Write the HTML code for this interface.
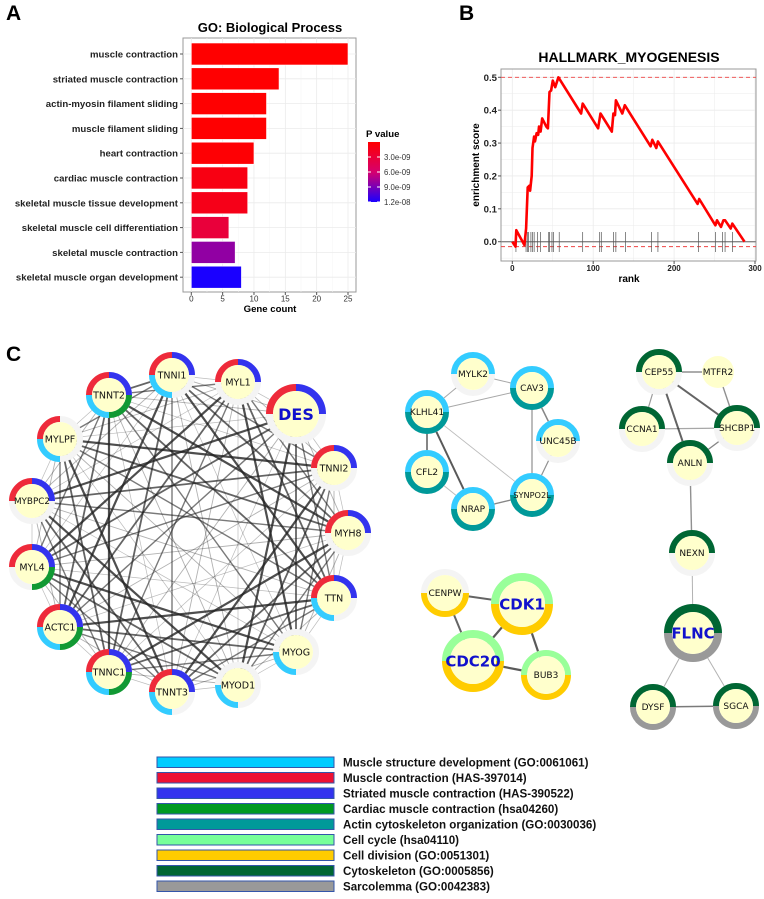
<!DOCTYPE html>
<html><head><meta charset="utf-8"><style>
html,body{margin:0;padding:0;background:#fff;}
svg{display:block;font-family:"Liberation Sans",sans-serif;}
</style></head><body>
<svg id="fig" width="764" height="899" viewBox="0 0 764 899" xmlns="http://www.w3.org/2000/svg">
<defs>
<linearGradient id="pg" x1="0" y1="0" x2="0" y2="1"><stop offset="0" stop-color="#ff0000"/><stop offset="0.5" stop-color="#d6006e"/><stop offset="1" stop-color="#1a00ff"/></linearGradient>
</defs>
<text x="6" y="20" font-size="21" font-weight="bold">A</text>
<text x="459" y="20" font-size="21" font-weight="bold">B</text>
<text x="6" y="361" font-size="21" font-weight="bold">C</text>
<g id="pa"></g>
<g id="pb"></g>
<g id="pc"></g>
<g id="leg"></g>
</svg>
<script>
const NS="http://www.w3.org/2000/svg";
// ---- Panel A data
const goTerms=["muscle contraction","striated muscle contraction","actin-myosin filament sliding","muscle filament sliding","heart contraction","cardiac muscle contraction","skeletal muscle tissue development","skeletal muscle cell differentiation","skeletal muscle contraction","skeletal muscle organ development"];
const goCounts=[25,14,12,12,10,9,9,6,7,8];
const goPvals=[1e-11,3e-11,5e-11,5e-11,2e-10,1.0e-9,1.3e-9,3.2e-9,8.2e-9,1.2e-8];
const goXTicks=[0,5,10,15,20,25];
const pTicks=[3e-9,6e-9,9e-9,1.2e-8];
const pTickLabels=["3.0e-09","6.0e-09","9.0e-09","1.2e-08"];
// ---- Panel B data
const esRank=[0,4,5,15,17,19,21,22,24,25,27,28,30,32,33,35,37,42,44,46,48,50,53,57,85,87,106,109,123,125,127,128,136,139,171,173,178,180,229,231,251,253,258,261,263,270,272,287];
const esScore=[0,-0.015,0.035,-0.01,0.04,0.165,0.17,0.155,0.2,0.285,0.32,0.305,0.33,0.325,0.35,0.335,0.375,0.35,0.345,0.455,0.46,0.49,0.47,0.5,0.39,0.42,0.345,0.39,0.335,0.39,0.385,0.43,0.39,0.415,0.29,0.31,0.285,0.305,0.115,0.13,0.05,0.065,0.045,0.065,0.065,0.04,0.055,0];
const hitRanks=[4.5,17,19,20,23,25,27,31,35,45,46,49,51,58,87,108,110,125,128,140,172,180,230,251,260,263,272];
const esYTicks=[0,0.1,0.2,0.3,0.4,0.5];
const esYLabels=["0.0","0.1","0.2","0.3","0.4","0.5"];
const esXTicks=[0,100,200,300];
const esMaxLine=0.5, esMinLine=-0.015;
// ---- Legend data
const legColors=["#00ccff","#ee1133","#3333ee","#009922","#009999","#77ff99","#ffcc00","#006633","#999999"];
const legLabels=["Muscle structure development (GO:0061061)","Muscle contraction (HAS-397014)","Striated muscle contraction (HAS-390522)","Cardiac muscle contraction (hsa04260)","Actin cytoskeleton organization (GO:0030036)","Cell cycle (hsa04110)","Cell division (GO:0051301)","Cytoskeleton (GO:0005856)","Sarcolemma (GO:0042383)"];

function el(tag,attrs,parent,txt){const e=document.createElementNS(NS,tag);for(const k in attrs)e.setAttribute(k,attrs[k]);if(txt!==undefined)e.textContent=txt;parent.appendChild(e);return e;}

// ===== Panel A
(function(){
const g=document.getElementById('pa');
const x0=183,x1=356,y0=38,y1=292;
const sx=v=>191.3+v*(348-191.3)/25;
const rowY=i=>54+i*24.8;
el('rect',{x:x0,y:y0,width:x1-x0,height:y1-y0,fill:'#fff',stroke:'#999','stroke-width':1},g);
for(let v=0;v<=25;v+=2.5){el('line',{x1:sx(v),x2:sx(v),y1:y0,y2:y1,stroke:v%5===0?'#ebebeb':'#f5f5f5','stroke-width':v%5===0?0.8:0.5},g);}
goTerms.forEach((t,i)=>{el('line',{x1:x0,x2:x1,y1:rowY(i),y2:rowY(i),stroke:'#ebebeb','stroke-width':0.8},g);});
function pcol(p){const t=Math.max(0,Math.min(1,p/1.2e-8));
 let r,b; if(t<0.5){r=255-(255-214)*t*2;b=110*t*2;}else{r=214-(214-26)*(t-0.5)*2;b=110+(255-110)*(t-0.5)*2;}
 return `rgb(${Math.round(r)},0,${Math.round(b)})`;}
goTerms.forEach((t,i)=>{
 const r=el('rect',{x:sx(0),y:rowY(i)-11,width:sx(goCounts[i])-sx(0),height:22,fill:pcol(goPvals[i]),stroke:'#fff','stroke-width':0.6},g);
 
 
 const l=el('text',{x:178,y:rowY(i)+3.5,'font-size':9.6,'font-weight':'bold','text-anchor':'end',fill:'#222'},g,t);
 
 
 el('line',{x1:x0-3,x2:x0,y1:rowY(i),y2:rowY(i),stroke:'#555'},g);
});
goXTicks.forEach(v=>{el('line',{x1:sx(v),x2:sx(v),y1:y1,y2:y1+3,stroke:'#555'},g);
 const t=el('text',{x:sx(v),y:y1+9.5,'font-size':8,'text-anchor':'middle',fill:'#333'},g,String(v));
 
 });
let t=el('text',{x:270,y:312,'font-size':9.6,'font-weight':'bold','text-anchor':'middle'},g,'Gene count');


t=el('text',{x:270,y:32,'font-size':13,'font-weight':'bold','text-anchor':'middle'},g,'GO: Biological Process');


const cy0=142,cy1=202,py=p=>cy0+(cy1-cy0)*p/1.2e-8;
t=el('text',{x:366,y:137,'font-size':9.6,'font-weight':'bold'},g,'P value');


const cb=el('rect',{x:368,y:cy0,width:12,height:cy1-cy0,fill:'url(#pg)'},g);


pTicks.forEach((p,i)=>{el('line',{x1:368,x2:371,y1:py(p),y2:py(p),stroke:'#fff'},g);el('line',{x1:377,x2:380,y1:py(p),y2:py(p),stroke:'#fff'},g);
 const tt=el('text',{x:384,y:py(p)+3,'font-size':7.8,fill:'#333'},g,pTickLabels[i]);
 
 });
})();

// ===== Panel B
(function(){
const g=document.getElementById('pb');
const x0=501,x1=756,y0=69,y1=261;
const sx=v=>512.3+v*(755-512.3)/300;
const sy=v=>241.7-v*(241.7-77.3)/0.5;
el('rect',{x:x0,y:y0,width:x1-x0,height:y1-y0,fill:'#fff'},g);
for(let k=-1;k<=11;k++){const v=k*0.05;const y=sy(v);if(y<y0||y>y1)continue;el('line',{x1:x0,x2:x1,y1:y,y2:y,stroke:'#ebebeb','stroke-width':k%2===0?0.8:0.5},g);}
for(let v=0;v<=300;v+=50){el('line',{x1:sx(v),x2:sx(v),y1:y0,y2:y1,stroke:'#ebebeb','stroke-width':v%100===0?0.8:0.5},g);}
el('rect',{x:x0,y:y0,width:x1-x0,height:y1-y0,fill:'none',stroke:'#999','stroke-width':1},g);
el('line',{x1:x0,x2:x1,y1:sy(0),y2:sy(0),stroke:'#888','stroke-width':1.4},g);
[esMaxLine,esMinLine].forEach(v=>{const d=el('line',{x1:x0,x2:x1,y1:sy(v),y2:sy(v),stroke:'#ee4444','stroke-width':0.9,'stroke-dasharray':'4,3'},g);
 
 });
hitRanks.forEach(r=>{const h=el('line',{x1:sx(r),x2:sx(r),y1:232,y2:252,stroke:'#555','stroke-width':0.7},g);
 
 });
const pts=esRank.map((r,i)=>sx(r).toFixed(1)+','+sy(esScore[i]).toFixed(1)).join(' ');
const pl=el('polyline',{points:pts,fill:'none',stroke:'#ff0000','stroke-width':2.6,'stroke-linejoin':'round'},g);


esYTicks.forEach((v,i)=>{el('line',{x1:x0-3,x2:x0,y1:sy(v),y2:sy(v),stroke:'#555'},g);
 const t=el('text',{x:497,y:sy(v)+3.5,'font-size':9.6,'font-weight':'bold','text-anchor':'end',fill:'#222'},g,esYLabels[i]);
 
 });
esXTicks.forEach(v=>{el('line',{x1:sx(v),x2:sx(v),y1:y1,y2:y1+3,stroke:'#555'},g);
 const t=el('text',{x:sx(v),y:y1+10,'font-size':8,'font-weight':'bold','text-anchor':'middle',fill:'#222'},g,String(v));
 
 });
let t=el('text',{x:629,y:282,'font-size':10,'font-weight':'bold','text-anchor':'middle'},g,'rank');


t=el('text',{x:0,y:0,'font-size':10,'font-weight':'bold','text-anchor':'middle',transform:'translate(479,165) rotate(-90)'},g,'enrichment score');


t=el('text',{x:629,y:62,'font-size':14,'font-weight':'bold','text-anchor':'middle'},g,'HALLMARK_MYOGENESIS');


})();

// ===== Panel C networks
const C={lb:"#33ccff",red:"#ee2a3a",blue:"#3333ee",green:"#119933",teal:"#009999",lg:"#99ff99",yel:"#ffcc00",dg:"#006633",gray:"#999999",none:"#f6f6f6"};
const circNodes=[["TNNI1",172,375,23,["blue","none","lb","red"]],["MYL1",238,382,23,["blue","none","none","red"]],["DES",296,414,30,["blue","none","none","red"]],["TNNI2",334,468,23,["blue","none","none","red"]],["MYH8",348,533,23,["blue","none","none","red"]],["TTN",334,598,23,["blue","none","lb","red"]],["MYOG",296,652,23,["none","none","lb","none"]],["MYOD1",238,685,23,["none","none","lb","none"]],["TNNT3",172,692,23,["blue","none","lb","red"]],["TNNC1",109,672,23,["blue","green","lb","red"]],["ACTC1",60,627,23,["blue","green","lb","red"]],["MYL4",32,567,23,["blue","green","none","red"]],["MYBPC2",32,501,23,["blue","none","none","red"]],["MYLPF",60,439,23,["none","none","lb","red"]],["TNNT2",109,395,23,["blue","green","lb","red"]]];
const otherNodes=[["MYLK2",473,374,22,"lb","none"],["CAV3",532,388,22,"lb","teal"],["KLHL41",427,412,22,"lb","teal"],["UNC45B",558,441,22,"lb","none"],["CFL2",427,472,22,"lb","teal"],["NRAP",473,509,22,"lb","teal"],["SYNPO2L",532,495,22,"lb","teal"],
["CENPW",445,593,24,"none","yel"],["CDK1",522,604,31,"lg","yel",1],["CDC20",473,661,31,"lg","yel",1],["BUB3",546,675,25,"lg","yel"],
["CEP55",659,372,23,"dg","none"],["MTFR2",718,372,16,null,null],["CCNA1",642,429,23,"dg","none"],["SHCBP1",737,428,23,"dg","none"],["ANLN",690,463,23,"dg","none"],["NEXN",692,553,23,"dg","none"],["FLNC",693,633,29,"dg","gray",1],["DYSF",653,707,23,"dg","gray"],["SGCA",736,706,23,"dg","gray"]];
const otherEdges=[["MYLK2","KLHL41",1,.4],["MYLK2","CAV3",1,.4],["KLHL41","CAV3",1,.4],["CAV3","UNC45B",1.5,.55],["CAV3","SYNPO2L",1.2,.5],["UNC45B","SYNPO2L",1.2,.5],["KLHL41","CFL2",2,.55],["KLHL41","NRAP",2,.75],["KLHL41","SYNPO2L",.8,.3],["CFL2","NRAP",1,.3],["NRAP","SYNPO2L",1.4,.55],
["CENPW","CDK1",2,.7],["CENPW","CDC20",2,.7],["CDK1","CDC20",2.2,.75],["CDK1","BUB3",2.2,.75],["CDC20","BUB3",2.2,.75],
["CEP55","MTFR2",1.4,.5],["CEP55","CCNA1",1.2,.45],["CEP55","SHCBP1",2,.7],["CEP55","ANLN",2,.7],["MTFR2","SHCBP1",1.4,.5],["CCNA1","SHCBP1",1.2,.4],["SHCBP1","ANLN",1.4,.55],["ANLN","NEXN",1.4,.5],["NEXN","FLNC",1,.35],["FLNC","DYSF",1,.35],["FLNC","SGCA",1,.35],["DYSF","SGCA",1.6,.6]];

(function(){
const g=document.getElementById('pc');
const eg=el('g',{},g);
const n=circNodes.length;
for(let i=0;i<n;i++)for(let j=i+1;j<n;j++){
 const a=circNodes[i],b=circNodes[j];const k=(i*7+j*13)%5;
 const w=[2.2,0.9,1.8,0.7,1.4][k],o=[0.8,0.35,0.7,0.3,0.6][k];
 const e=el('line',{x1:a[1],y1:a[2],x2:b[1],y2:b[2],stroke:'#222','stroke-width':w,'stroke-opacity':o},eg);
 
 
}
const byName={};otherNodes.forEach(d=>{byName[d[0]]=d;});
otherEdges.forEach(ed=>{const a=byName[ed[0]],b=byName[ed[1]];
 const e=el('line',{x1:a[1],y1:a[2],x2:b[1],y2:b[2],stroke:'#222','stroke-width':ed[2],'stroke-opacity':ed[3]},eg);
 
 });
function arc(cx,cy,r,a0,a1){const p=a=>[cx+r*Math.sin(a*Math.PI/180),cy-r*Math.cos(a*Math.PI/180)];const s=p(a0),e=p(a1);return `M${s[0].toFixed(2)},${s[1].toFixed(2)} A${r},${r} 0 ${a1-a0>180?1:0} 1 ${e[0].toFixed(2)},${e[1].toFixed(2)}`;}
function label(ng,name,x,y,big,fs){
 el('text',{x:x,y:y+fs*0.36,'font-size':fs,'font-weight':big?'bold':'normal','text-anchor':'middle',fill:big?'#1111cc':'#111','font-family':'"DejaVu Sans",sans-serif'},ng,name);
}
circNodes.forEach(d=>{
 const name=d[0],x=d[1],y=d[2],r=d[3],segs=d[4],big=name==='DES',rw=big?7:6;
 const ng=el('g',{},g);
 
 
 el('circle',{cx:x,cy:y,r:r-rw/2,fill:'none',stroke:'#f4f4f4','stroke-width':rw},ng);
 segs.forEach((s,i)=>{if(s==='none')return;el('path',{d:arc(x,y,r-rw/2,i*90,(i+1)*90),fill:'none',stroke:C[s],'stroke-width':rw},ng);});
 el('circle',{cx:x,cy:y,r:r-rw,fill:'#ffffcc'},ng);
 label(ng,name,x,y,big,big?16:(name.length>5?8.8:9.5));
});
otherNodes.forEach(d=>{
 const ng=el('g',{},g);
 
 
 const x=d[1],y=d[2],r=d[3];
 if(d[4]===null){el('circle',{cx:x,cy:y,r:r,fill:'#ffffcc'},ng);label(ng,d[0],x,y,false,9);return;}
 const rw=d[6]?8:6,rm=r-rw/2;
 el('circle',{cx:x,cy:y,r:rm,fill:'none',stroke:'#f4f4f4','stroke-width':rw},ng);
 if(d[4]!=='none')el('path',{d:arc(x,y,rm,-90,90),fill:'none',stroke:C[d[4]],'stroke-width':rw},ng);
 if(d[5]!=='none')el('path',{d:arc(x,y,rm,90,270),fill:'none',stroke:C[d[5]],'stroke-width':rw},ng);
 el('circle',{cx:x,cy:y,r:r-rw,fill:'#ffffcc'},ng);
 const big=!!d[6];
 label(ng,d[0],x,y,big,big?15:(d[0].length>6?8.2:9));
});
})();

// ===== Legend
(function(){
const g=document.getElementById('leg');
legColors.forEach((c,i)=>{const y=757+i*15.5;
 const r=el('rect',{x:157,y:y,width:177,height:10.5,fill:c,stroke:'#3355aa','stroke-width':1},g);
 
 
 const t=el('text',{x:343,y:y+9.5,'font-size':11.6,'font-weight':'bold',fill:'#111'},g,legLabels[i]);
 
 });
})();
</script>
</body></html>
